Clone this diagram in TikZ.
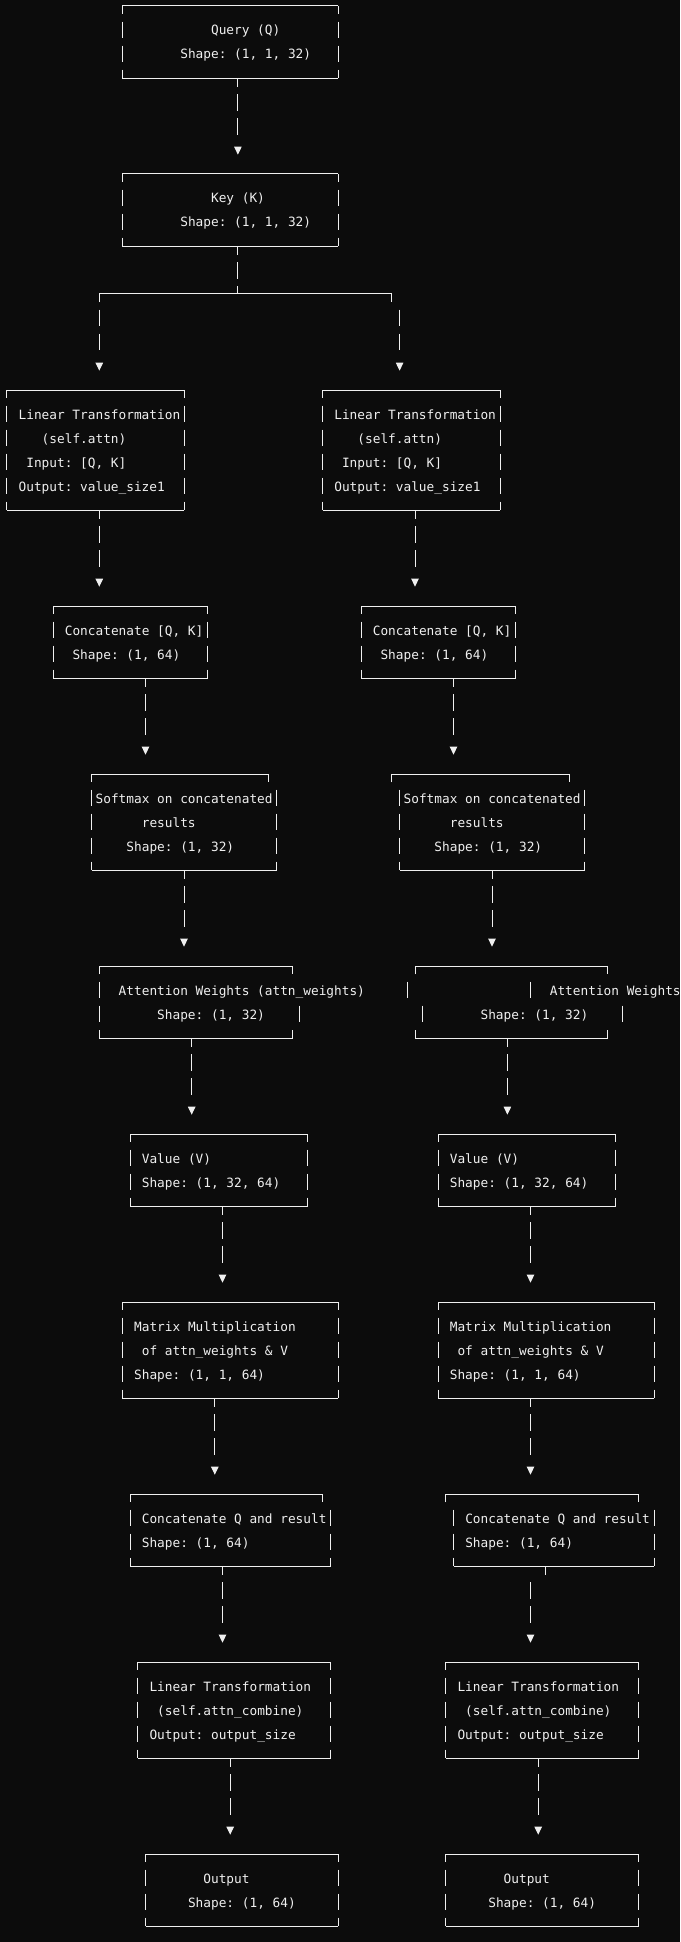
\documentclass[tikz,border=0pt]{standalone}
\usepackage{fontspec}
\setmonofont{DejaVu Sans Mono}
\usetikzlibrary{arrows.meta}
\definecolor{termbg}{RGB}{12,12,12}
\definecolor{ink}{RGB}{240,240,240}
\newlength{\cellw}
\setlength{\cellw}{7.694pt}
\newcommand{\indentby}[1]{\hspace*{#1\cellw}}

\begin{document}
\begin{tikzpicture}[x=7.7pt, y=-24pt,
    tbox/.style={rectangle, anchor=north west, inner xsep=3.85pt, inner ysep=12pt, align=flush left, text=ink,
        font=\ttfamily\fontsize{12.78pt}{24pt}\selectfont,
        execute at begin node={\spaceskip=0pt\xspaceskip=0pt\strut}, execute at end node=\strut},
    rim/.style={draw=ink, line width=1pt},
    side/.style={rim, dash pattern=on 16.6pt off 7.4pt, dash phase=8.3pt},
    bars/.style={rim, dash pattern=on 16.6pt off 7.4pt},
    dashline/.style={rim, dash pattern=on 8.3pt off 7.4pt on 16.6pt off 7.4pt on 16.6pt off 60pt},
    link/.style={dashline, -{Triangle[length=8pt, width=7.4pt]}, shorten >=19.3pt},
    notick/.style={dash pattern=on 0pt off 15.7pt on 16.6pt off 7.4pt on 16.6pt off 60pt}]

    \fill[termbg] (-6.9pt,6pt) rectangle (673.1pt,-1936pt);
    \useasboundingbox (-6.9pt,6pt) rectangle (673.1pt,-1936pt);

    \node[tbox, text width=207.9pt] (query) at (15,0) {\indentby{11}Query (Q)\\\indentby{7}Shape: (1, 1, 32)};
    \node[tbox, text width=207.9pt] (key) at (15,7) {\indentby{11}Key (K)\\\indentby{7}Shape: (1, 1, 32)};

    \coordinate (fork) at (30,12);
    \coordinate (forkL) at (12,12);
    \coordinate (forkR) at (50,12);
    \coordinate (forkRb) at (51,12);

    \node[tbox, text width=169.4pt] (lt1L) at (0,16) {\indentby{1}Linear Transformation\\\indentby{4}(self.attn)\\\indentby{2}Input: [Q, K]\\\indentby{1}Output: value\_size1};
    \node[tbox, text width=169.4pt] (lt1R) at (41,16) {\indentby{1}Linear Transformation\\\indentby{4}(self.attn)\\\indentby{2}Input: [Q, K]\\\indentby{1}Output: value\_size1};

    \node[tbox, text width=146.3pt] (cat1L) at (6,25) {\indentby{1}Concatenate [Q, K]\\\indentby{2}Shape: (1, 64)};
    \node[tbox, text width=146.3pt] (cat1R) at (46,25) {\indentby{1}Concatenate [Q, K]\\\indentby{2}Shape: (1, 64)};

    \node[tbox, text width=177.1pt] (smL) at (11,32) {Softmax on concatenated\\\indentby{6}results\\\indentby{4}Shape: (1, 32)};
    \node[tbox, text width=177.1pt] (smR) at (51,32) {Softmax on concatenated\\\indentby{6}results\\\indentby{4}Shape: (1, 32)};

    \node[tbox, text width=184.8pt] (attL) at (12,40) {\mbox{\indentby{2}Attention Weights (attn\_weights)}\\\indentby{7}Shape: (1, 32)};
    \node[tbox, text width=184.8pt] (attR) at (53,40) {\mbox{\indentby{17}Attention Weights}\\\indentby{8}Shape: (1, 32)};

    \node[tbox, text width=169.4pt] (valL) at (16,47) {\indentby{1}Value (V)\\\indentby{1}Shape: (1, 32, 64)};
    \node[tbox, text width=169.4pt] (valR) at (56,47) {\indentby{1}Value (V)\\\indentby{1}Shape: (1, 32, 64)};

    \node[tbox, text width=207.9pt] (mmL) at (15,54) {\indentby{1}Matrix Multiplication\\\indentby{2}of attn\_weights \& V\\\indentby{1}Shape: (1, 1, 64)};
    \node[tbox, text width=207.9pt] (mmR) at (56,54) {\indentby{1}Matrix Multiplication\\\indentby{2}of attn\_weights \& V\\\indentby{1}Shape: (1, 1, 64)};

    \node[tbox, text width=192.5pt] (cqL) at (16,62) {\indentby{1}Concatenate Q and result\\\indentby{1}Shape: (1, 64)};
    \node[tbox, text width=192.5pt] (cqR) at (58,62) {\indentby{1}Concatenate Q and result\\\indentby{1}Shape: (1, 64)};

    \node[tbox, text width=184.8pt] (lt2L) at (17,69) {\indentby{1}Linear Transformation\\\indentby{2}(self.attn\_combine)\\\indentby{1}Output: output\_size};
    \node[tbox, text width=184.8pt] (lt2R) at (57,69) {\indentby{1}Linear Transformation\\\indentby{2}(self.attn\_combine)\\\indentby{1}Output: output\_size};

    \node[tbox, text width=184.8pt] (outL) at (18,77) {\indentby{7}Output\\\indentby{5}Shape: (1, 64)};
    \node[tbox, text width=184.8pt] (outR) at (57,77) {\indentby{7}Output\\\indentby{5}Shape: (1, 64)};

    \foreach \b in {query,key,lt1L,lt1R,cat1L,cat1R,valL,valR,mmL,mmR,lt2L,lt2R,outL,outR} {
        \draw[rim] (\b.north west) -- (\b.north east);
        \draw[rim] (\b.south west) -- (\b.south east);
        \draw[side] (\b.north west) -- (\b.south west);
        \draw[side] (\b.north east) -- (\b.south east);
    }

    \draw[rim] (smL.north west) -- (34,32) -- ([yshift=-8.3pt]34,32);
    \draw[rim] (smL.south west) -- (smL.south east);
    \draw[side] (smL.north west) -- (smL.south west);
    \draw[bars] ([yshift=-15.7pt]smL.north east) -- (smL.south east);

    \draw[rim] ([yshift=-8.3pt]50,32) -- (50,32) -- (73,32) -- ([yshift=-8.3pt]73,32);
    \draw[rim] (smR.south west) -- (smR.south east);
    \draw[bars] ([yshift=-15.7pt]smR.north west) -- (smR.south west);
    \draw[bars] ([yshift=-15.7pt]smR.north east) -- (smR.south east);

    \draw[rim] (cqL.north west) -- (41,62) -- ([yshift=-8.3pt]41,62);
    \draw[rim] (cqL.south west) -- (cqL.south east);
    \draw[side] (cqL.north west) -- (cqL.south west);
    \draw[bars] ([yshift=-15.7pt]cqL.north east) -- (cqL.south east);

    \draw[rim] ([yshift=-8.3pt]57,62) -- (57,62) -- (82,62) -- ([yshift=-8.3pt]82,62);
    \draw[rim] (cqR.south west) -- (cqR.south east);
    \draw[bars] ([yshift=-15.7pt]cqR.north west) -- (cqR.south west);
    \draw[bars] ([yshift=-15.7pt]cqR.north east) -- (cqR.south east);

    \foreach \b in {attL,attR} {
        \draw[rim] ([yshift=-8.3pt]\b.north west) -- (\b.north west) -- (\b.north east) -- ([yshift=-8.3pt]\b.north east);
        \draw[rim] ([yshift=8.3pt]\b.south west) -- (\b.south west) -- (\b.south east) -- ([yshift=8.3pt]\b.south east);
    }
    \foreach \c in {12,52,68} \draw[rim] ([yshift=8.3pt]\c,41) -- ([yshift=-8.3pt]\c,41);
    \foreach \c in {12,38,54,80} \draw[rim] ([yshift=8.3pt]\c,42) -- ([yshift=-8.3pt]\c,42);

    \draw[link] (query.south -| fork) -- (key.north -| fork);
    \draw[dashline] (key.south -| fork) -- (fork);
    \draw[rim] ([yshift=-8.3pt]forkL) -- (forkL) -- (forkR) -- ([yshift=-8.3pt]forkR);
    \draw[link] (forkL) -- (lt1L.north -| forkL);
    \draw[link, notick] (forkRb) -- (lt1R.north -| forkRb);

    \draw[link] (lt1L.south -| 12,0) -- (cat1L.north -| 12,0);
    \draw[link] (lt1R.south -| 53,0) -- (cat1R.north -| 53,0);
    \draw[link] (cat1L.south -| 18,0) -- (smL.north -| 18,0);
    \draw[link] (cat1R.south -| 58,0) -- (smR.north -| 58,0);
    \draw[link] (smL.south -| 23,0) -- (attL.north -| 23,0);
    \draw[link] (smR.south -| 63,0) -- (attR.north -| 63,0);
    \draw[link] (attL.south -| 24,0) -- (valL.north -| 24,0);
    \draw[link] (attR.south -| 65,0) -- (valR.north -| 65,0);
    \draw[link] (valL.south -| 28,0) -- (mmL.north -| 28,0);
    \draw[link] (valR.south -| 68,0) -- (mmR.north -| 68,0);
    \draw[link] (mmL.south -| 27,0) -- (cqL.north -| 27,0);
    \draw[link] (mmR.south -| 68,0) -- (cqR.north -| 68,0);
    \draw[link] (cqL.south -| 28,0) -- (lt2L.north -| 28,0);
    \draw[link, notick] (cqR.south -| 68,0) -- (lt2R.north -| 68,0);
    \draw[rim] (cqR.south -| 70,0) -- ++(0pt,-8.3pt);
    \draw[link] (lt2L.south -| 29,0) -- (outL.north -| 29,0);
    \draw[link] (lt2R.south -| 69,0) -- (outR.north -| 69,0);

\end{tikzpicture}
\end{document}
